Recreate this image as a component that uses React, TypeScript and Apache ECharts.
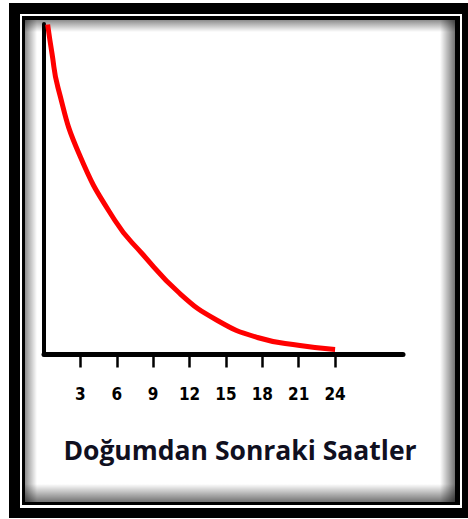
import React, { useEffect, useRef } from "react";
import * as echarts from "echarts";

const hours = [0.3, 0.66, 1.15, 2.88, 5.85, 8.08, 11.2, 14.3, 17.6, 21.1, 24];
const levels = [330, 301, 267, 201, 134, 101, 61, 34, 17, 9, 5];
const tickHours = [3, 6, 9, 12, 15, 18, 21, 24];
const xTitle = "Doğumdan Sonraki Saatler";

export default function App() {
  const ref = useRef<HTMLDivElement>(null);
  useEffect(() => {
    if (!ref.current) return;
    const chart = echarts.init(ref.current, null, { renderer: "svg" });
    const lg = (x2: number, y2: number, a0: number, a1: number) => ({
      type: "linear",
      x: 0,
      y: 0,
      x2,
      y2,
      colorStops: [
        { offset: 0, color: `rgba(0,0,0,${a0})` },
        { offset: 1, color: `rgba(0,0,0,${a1})` },
      ],
    });
    chart.setOption({
      animation: false,
      backgroundColor: "#ffffff",
      grid: { left: 44, top: 24, right: 65, bottom: 164.5, containLabel: false },
      xAxis: {
        type: "value",
        min: 0,
        max: 29.6,
        interval: 3,
        splitLine: { show: false },
        axisLine: { show: true, lineStyle: { color: "#000", width: 5 } },
        axisTick: {
          show: true,
          customValues: tickHours,
          length: 13,
          lineStyle: { color: "#000", width: 2.5 },
        },
        axisLabel: {
          show: true,
          customValues: tickHours,
          margin: 31,
          color: "#000",
          fontFamily: "DejaVu Sans Condensed, DejaVu Sans",
          fontWeight: "bold",
          fontSize: 17,
        },
      },
      yAxis: {
        type: "value",
        min: 0,
        max: 330.5,
        splitLine: { show: false },
        axisLine: { show: true, lineStyle: { color: "#000", width: 4 } },
        axisTick: { show: false },
        axisLabel: { show: false },
      },
      series: [
        {
          type: "line",
          data: hours.map((h, i) => [h, levels[i]]),
          smooth: 0.5,
          showSymbol: false,
          lineStyle: { color: "#ff0000", width: 5 },
          z: 3,
        },
      ],
      graphic: [
        { type: "rect", z: -10, silent: true, shape: { x: 9, y: 3, width: 459, height: 515 }, style: { fill: "#000" } },
        { type: "rect", z: -9, silent: true, shape: { x: 20, y: 14, width: 442, height: 494 }, style: { fill: "#fff" } },
        { type: "rect", z: -8, silent: true, shape: { x: 22, y: 16, width: 438, height: 489 }, style: { fill: "#000" } },
        { type: "rect", z: -7, silent: true, shape: { x: 25, y: 20, width: 430, height: 482 }, style: { fill: "#fff" } },
        { type: "rect", z: -6, silent: true, shape: { x: 25, y: 20, width: 430, height: 12 }, style: { fill: lg(0, 1, 0.45, 0) } },
        { type: "rect", z: -6, silent: true, shape: { x: 25, y: 20, width: 12, height: 482 }, style: { fill: lg(1, 0, 0.45, 0) } },
        { type: "rect", z: -6, silent: true, shape: { x: 440, y: 20, width: 15, height: 482 }, style: { fill: lg(1, 0, 0, 0.55) } },
        { type: "rect", z: -6, silent: true, shape: { x: 25, y: 484, width: 430, height: 18 }, style: { fill: lg(0, 1, 0, 0.55) } },
        {
          type: "text",
          z: 10,
          x: 240,
          y: 450,
          style: {
            text: xTitle,
            align: "center",
            verticalAlign: "middle",
            fill: "#10101f",
            font: "bold 26.5px 'Open Sans', sans-serif",
          },
        },
      ],
    });
    return () => chart.dispose();
  }, []);
  return (
    <div
      ref={ref}
      style={{ position: "fixed", left: 0, top: 0, width: 468, height: 519 }}
    />
  );
}
